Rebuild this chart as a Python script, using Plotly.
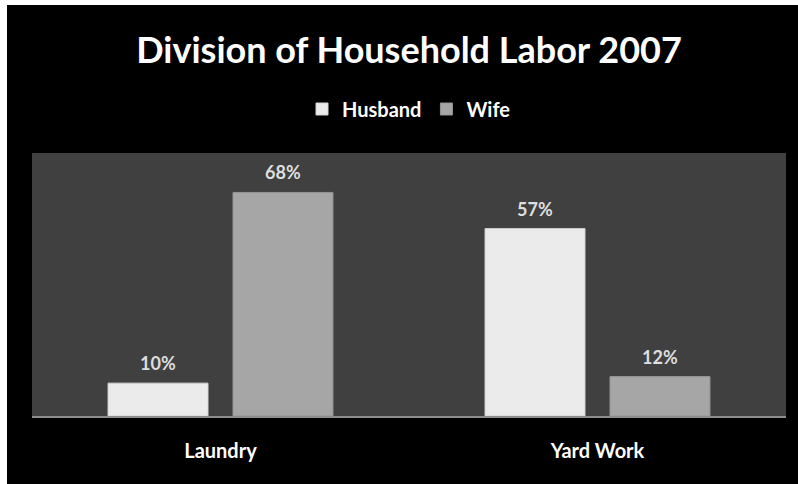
import plotly.graph_objects as go

categories = ["Laundry", "Yard Work"]
husband = [10, 57]
wife = [68, 12]
series_names = ["Husband", "Wife"]
title_text = "Division of Household Labor 2007"

FONT = "Lato"
# page offset (white strip at top/left of the picture)
OFF_X, OFF_Y = 7, 5
W, H = 798, 484          # figure overflows the window to the right/bottom (clipped)
ML, MT = 25, 148
PW, PH = 754, 263        # plot area size
MR, MB = W - ML - PW, H - MT - PH

fig = go.Figure()
fig.add_trace(go.Bar(
    name=series_names[0], x=categories, y=husband,
    marker=dict(color="#ebebeb", line=dict(color="#d2d2d2", width=1)),
    hoverinfo="x+y",
))
fig.add_trace(go.Bar(
    name=series_names[1], x=categories, y=wife,
    marker=dict(color="#a6a6a6", line=dict(color="#949494", width=1)),
    hoverinfo="x+y",
))

# value labels above each bar
slot_px = 62.5
for vals, shift in ((husband, -slot_px), (wife, slot_px)):
    for c, v in zip(categories, vals):
        fig.add_annotation(
            x=c, y=v, xref="x", yref="y", text=f"{v}%", showarrow=False,
            xshift=shift, yshift=20, yanchor="middle",
            font=dict(family=FONT, size=18, color="#dedede", weight="bold"),
        )

fig.update_layout(
    width=W, height=H,
    margin=dict(l=ML, r=MR, t=MT, b=MB, pad=0),
    paper_bgcolor="black",
    plot_bgcolor="#404040",
    barmode="group",
    bargap=0.337,
    bargroupgap=0.2,
    title=dict(text=title_text, x=0.5, xref="paper", xanchor="center",
               y=1 - 45 / H, yref="container", yanchor="middle",
               font=dict(family=FONT, size=36, color="white", weight="bold")),
    legend=dict(orientation="h", x=0.5, xanchor="center", xref="paper",
                y=1 - 104 / H, yref="container", yanchor="middle",
                font=dict(family=FONT, size=20, color="white", weight="bold"),
                bgcolor="rgba(0,0,0,0)", itemwidth=30, traceorder="normal"),
    showlegend=True,
    xaxis=dict(showgrid=False, zeroline=False, showline=True, linecolor="#8c8c8c",
               linewidth=2, ticks="", ticklabelstandoff=16,
               tickfont=dict(family=FONT, size=20, color="white", weight="bold")),
    yaxis=dict(range=[0, 80], visible=False, showgrid=False, zeroline=False),
)

fig.write_html(
    "out.html",
    post_script="document.documentElement.style.overflow='hidden';"
                "document.documentElement.style.background='white';"
                "document.body.style.background='black';"
                "document.body.style.margin='%dpx 0 0 %dpx';"
                "document.body.style.overflow='hidden';" % (OFF_Y, OFF_X),
)
